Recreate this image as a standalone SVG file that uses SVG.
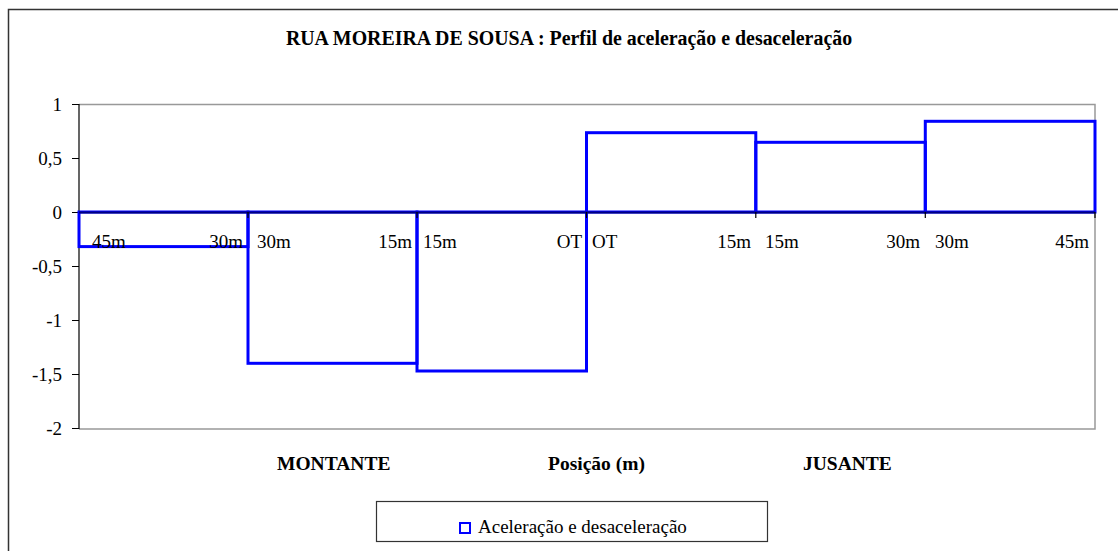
<svg xmlns="http://www.w3.org/2000/svg" width="1118" height="551" viewBox="0 0 1118 551">
<style>
.t{font-family:"Liberation Serif","Times New Roman",serif;fill:#000}
.b{font-weight:bold}
.s{fill:none;stroke:#0000FF;stroke-width:3}
.ax{stroke:#000;stroke-width:1.2;fill:none}
.gr{stroke:#999;stroke-width:1.5;fill:none}
</style>
<rect width="1118" height="551" fill="#fff"/>
<g id="frame">
<path d="M8.5,560 V9.5 H1130" fill="none" stroke="#333" stroke-width="1.5"/>
</g>
<g id="title"><text class="t b" x="569" y="45" font-size="19.9" text-anchor="middle">RUA MOREIRA DE SOUSA : Perfil de aceleração e desaceleração</text></g>
<g id="plot">
<path class="gr" d="M79,104.5 H1095 V429 H79"/>
<path class="ax" d="M79,104 V429 M72,104.5 H79 M72,158.5 H79 M72,212.5 H79 M72,266.5 H79 M72,320.5 H79 M72,374.5 H79 M72,428.5 H79"/>
</g>
<g id="yaxis" class="t" font-size="19" text-anchor="end">
<text x="62" y="111">1</text>
<text x="62" y="165">0,5</text>
<text x="62" y="219">0</text>
<text x="62" y="273">-0,5</text>
<text x="62" y="327">-1</text>
<text x="62" y="381">-1,5</text>
<text x="62" y="435">-2</text>
</g>
<g id="connectors">
<rect class="s" x="79" y="212" width="169" height="34.6"/>
<rect class="s" x="248" y="212" width="169" height="151.3"/>
<rect class="s" x="417" y="212" width="169.5" height="159"/>
<rect class="s" x="586.5" y="132.7" width="169.3" height="79.3"/>
<rect class="s" x="755.8" y="142.3" width="169.5" height="69.7"/>
<rect class="s" x="925.3" y="121.3" width="169.7" height="90.7"/>
<path d="M79,212.5 H1095" stroke="#000080" stroke-width="2"/>
<path class="ax" d="M248,212 V218 M417,212 V218 M586.5,212 V218 M755.8,212 V218 M925.3,212 V218 M1095,212 V218"/>
</g>
<g id="labels" class="t" font-size="19">
<text x="92" y="248">45m</text>
<text x="243" y="248" text-anchor="end">30m</text>
<text x="257" y="248">30m</text>
<text x="412" y="248" text-anchor="end">15m</text>
<text x="423" y="248">15m</text>
<text x="582" y="248" text-anchor="end">OT</text>
<text x="592" y="248">OT</text>
<text x="751" y="248" text-anchor="end">15m</text>
<text x="765" y="248">15m</text>
<text x="920" y="248" text-anchor="end">30m</text>
<text x="935" y="248">30m</text>
<text x="1089" y="248" text-anchor="end">45m</text>
</g>
<g id="axis-labels" class="t b" font-size="19.5">
<text x="277" y="470">MONTANTE</text>
<text x="548" y="470">Posição (m)</text>
<text x="803" y="470">JUSANTE</text>
</g>
<g id="legend">
<rect x="376.5" y="501.5" width="391" height="40" fill="#fff" stroke="#333" stroke-width="1.2"/>
<rect x="460" y="523" width="10" height="10" fill="#fff" stroke="#0000FF" stroke-width="2"/>
<text class="t" x="478" y="533" font-size="19">Aceleração e desaceleração</text>
</g>
</svg>
